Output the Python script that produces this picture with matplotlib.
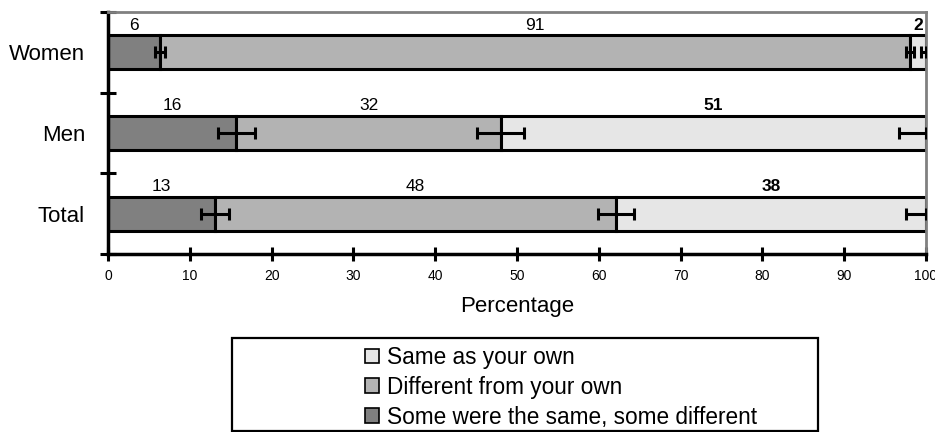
import numpy as np
import matplotlib.pyplot as plt
from matplotlib.patches import Rectangle, Patch

plt.rcParams['font.family'] = ['Liberation Sans', 'DejaVu Sans']

# Data
groups = ["Women", "Men", "Total"]
some_same = [6.4, 15.7, 13.1]        # "Some were the same, some different"
different = [91.6, 32.3, 49.0]       # "Different from your own"
same = [2.0, 52.0, 37.9]             # "Same as your own"
labels_some = ["6", "16", "13"]
labels_diff = ["91", "32", "48"]
labels_same = ["2", "51", "38"]
err_some = [0.6, 2.3, 1.75]          # error at end of first segment
err_diff = [0.5, 2.9, 2.25]          # error at end of second segment
err_same = [0.6, 3.3, 2.5]           # lower error at 100 %

series_names = ["Some were the same, some different",
                "Different from your own",
                "Same as your own"]
colors = ["#808080", "#b3b3b3", "#e6e6e6"]


def main():
    fig = plt.figure(figsize=(9.35, 4.32), dpi=100)
    ax = fig.add_axes([108 / 935, 1 - 254 / 432, 818 / 935, 242 / 432])

    y = np.arange(len(groups))
    h = 0.42
    lw = 2.2

    segs = [some_same, different, same]
    left = np.zeros(len(groups))
    for vals, col, name in zip(segs, colors, series_names):
        ax.barh(y, vals, left=left, height=h, color=col,
                edgecolor="black", linewidth=lw, label=name, zorder=2)
        left = left + np.array(vals)

    # error bars at segment ends
    end1 = np.array(some_same)
    end2 = end1 + np.array(different)
    ekw = dict(fmt="none", ecolor="black", elinewidth=lw, capsize=4.3,
               capthick=lw, zorder=3)
    ax.errorbar(end1, y, xerr=err_some, **ekw)
    ax.errorbar(end2, y, xerr=err_diff, **ekw)
    ax.errorbar(np.full(len(groups), 100.0), y,
                xerr=[err_same, np.zeros(len(groups))], **ekw)

    # value labels above segments
    starts = [np.zeros(len(groups)), end1, end2]
    texts = [labels_some, labels_diff, labels_same]
    for k in range(3):
        for i in range(len(groups)):
            xc = starts[k][i] + segs[k][i] / 2
            ax.text(xc, y[i] - 0.335, texts[k][i], ha="center", va="center",
                    fontsize=12.5, fontweight="bold" if k == 2 else "normal")

    ax.set_xlim(0, 100)
    ax.set_ylim(2.5, -0.5)
    ax.set_xticks(np.arange(0, 101, 10))
    ax.tick_params(axis="x", direction="inout", length=10, width=2.2,
                   labelsize=10, pad=6)
    ax.set_yticks(y)
    ax.set_yticklabels(groups, fontsize=16)
    ax.set_yticks([-0.5, 0.5, 1.5, 2.5], minor=True)
    ax.tick_params(axis="y", which="major", length=0, pad=16.5)
    ax.tick_params(axis="y", which="minor", direction="inout", length=12,
                   width=2.2)
    ax.set_xlabel("Percentage", fontsize=16, labelpad=9)

    for s in ["left", "bottom"]:
        ax.spines[s].set_linewidth(2.5)
        ax.spines[s].set_color("black")
    for s in ["top", "right"]:
        ax.spines[s].set_linewidth(2)
        ax.spines[s].set_color("#808080")

    # legend box
    fig.patches.append(Rectangle((232 / 935, 1 / 432), 586 / 935, 93 / 432,
                                 transform=fig.transFigure, fill=False,
                                 edgecolor="black", linewidth=1.6))
    handles = [Patch(facecolor=c, edgecolor="black", linewidth=1.2)
               for c in colors]
    fig.legend(handles[::-1], series_names[::-1], loc="upper left",
               bbox_to_anchor=(365 / 935, 1 - 346 / 432), frameon=False,
               fontsize=16.3, handlelength=0.62, handleheight=0.62,
               handletextpad=0.35, labelspacing=0.3, borderaxespad=0,
               borderpad=0)

    fig.savefig("out.png", dpi=100)


if __name__ == "__main__":
    main()
